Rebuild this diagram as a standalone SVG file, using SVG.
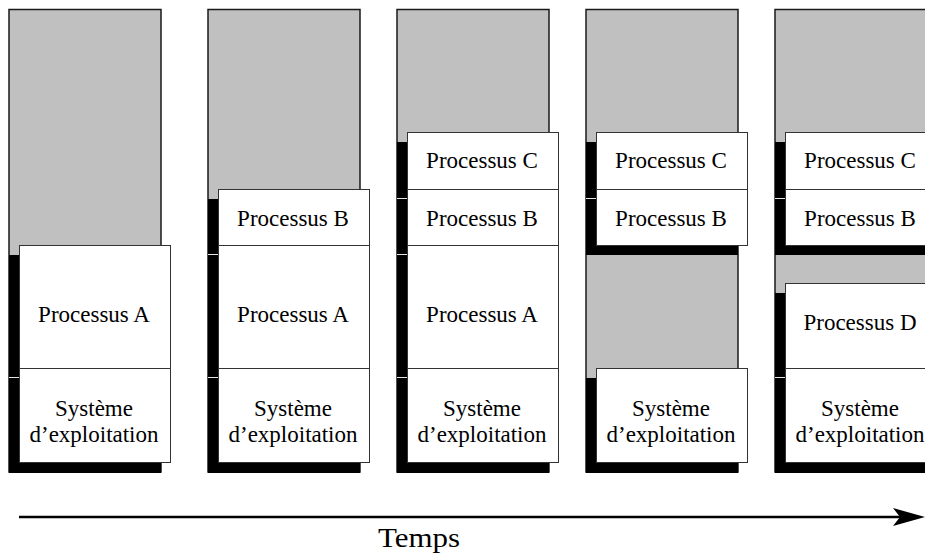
<svg xmlns="http://www.w3.org/2000/svg" width="925" height="556" viewBox="0 0 925 556">
  <style>
    .mem { fill: #c0c0c0; stroke: #1a1a1a; stroke-width: 1.5; }
    .shadow { fill: #000000; }
    .box { fill: #ffffff; stroke: #333333; stroke-width: 1; }
    .gap { stroke: #e6e6e6; stroke-width: 1; }
    .lbl { font-family: "Liberation Serif", "Times New Roman", serif; font-size: 23px; fill: #000000; text-anchor: middle; }
    .axis { font-family: "Liberation Serif", "Times New Roman", serif; font-size: 28px; fill: #000000; text-anchor: middle; }
  </style>

  <!-- Instant 1: système + processus A -->
  <g id="t1" transform="translate(9,0)">
    <rect class="mem" x="0" y="9.5" width="152" height="462.5"/>
    <rect class="shadow" x="0" y="255" width="152" height="123"/>
    <rect class="shadow" x="0" y="378" width="152" height="95"/>
    <line class="gap" x1="0" y1="377.5" x2="10" y2="377.5"/>
    <g id="t1-procA">
      <rect class="box" x="10.5" y="245.5" width="151" height="123"/>
      <text class="lbl" x="85" y="322">Processus A</text>
    </g>
    <g id="t1-os">
      <rect class="box" x="10.5" y="368.5" width="151" height="94"/>
      <text class="lbl" x="85" y="416">Système</text>
      <text class="lbl" x="85" y="442">d’exploitation</text>
    </g>
  </g>

  <!-- Instant 2: + processus B -->
  <g id="t2" transform="translate(208,0)">
    <rect class="mem" x="0" y="9.5" width="152" height="462.5"/>
    <rect class="shadow" x="0" y="199" width="152" height="56"/>
    <rect class="shadow" x="0" y="255" width="152" height="123"/>
    <rect class="shadow" x="0" y="378" width="152" height="95"/>
    <line class="gap" x1="0" y1="254.5" x2="10" y2="254.5"/>
    <line class="gap" x1="0" y1="377.5" x2="10" y2="377.5"/>
    <g id="t2-procB">
      <rect class="box" x="10.5" y="189.5" width="151" height="56"/>
      <text class="lbl" x="85" y="226">Processus B</text>
    </g>
    <g id="t2-procA">
      <rect class="box" x="10.5" y="245.5" width="151" height="123"/>
      <text class="lbl" x="85" y="322">Processus A</text>
    </g>
    <g id="t2-os">
      <rect class="box" x="10.5" y="368.5" width="151" height="94"/>
      <text class="lbl" x="85" y="416">Système</text>
      <text class="lbl" x="85" y="442">d’exploitation</text>
    </g>
  </g>

  <!-- Instant 3: + processus C -->
  <g id="t3" transform="translate(397,0)">
    <rect class="mem" x="0" y="9.5" width="152" height="462.5"/>
    <rect class="shadow" x="0" y="142" width="152" height="57"/>
    <rect class="shadow" x="0" y="199" width="152" height="56"/>
    <rect class="shadow" x="0" y="255" width="152" height="123"/>
    <rect class="shadow" x="0" y="378" width="152" height="95"/>
    <line class="gap" x1="0" y1="198.5" x2="10" y2="198.5"/>
    <line class="gap" x1="0" y1="254.5" x2="10" y2="254.5"/>
    <line class="gap" x1="0" y1="377.5" x2="10" y2="377.5"/>
    <g id="t3-procC">
      <rect class="box" x="10.5" y="132.5" width="151" height="57"/>
      <text class="lbl" x="85" y="168">Processus C</text>
    </g>
    <g id="t3-procB">
      <rect class="box" x="10.5" y="189.5" width="151" height="56"/>
      <text class="lbl" x="85" y="226">Processus B</text>
    </g>
    <g id="t3-procA">
      <rect class="box" x="10.5" y="245.5" width="151" height="123"/>
      <text class="lbl" x="85" y="322">Processus A</text>
    </g>
    <g id="t3-os">
      <rect class="box" x="10.5" y="368.5" width="151" height="94"/>
      <text class="lbl" x="85" y="416">Système</text>
      <text class="lbl" x="85" y="442">d’exploitation</text>
    </g>
  </g>

  <!-- Instant 4: processus A terminé, trou libre -->
  <g id="t4" transform="translate(586,0)">
    <rect class="mem" x="0" y="9.5" width="152" height="462.5"/>
    <rect class="shadow" x="0" y="142" width="152" height="57"/>
    <rect class="shadow" x="0" y="199" width="152" height="56"/>
    <rect class="shadow" x="0" y="378" width="152" height="95"/>
    <line class="gap" x1="0" y1="198.5" x2="10" y2="198.5"/>
    <g id="t4-procC">
      <rect class="box" x="10.5" y="132.5" width="151" height="57"/>
      <text class="lbl" x="85" y="168">Processus C</text>
    </g>
    <g id="t4-procB">
      <rect class="box" x="10.5" y="189.5" width="151" height="56"/>
      <text class="lbl" x="85" y="226">Processus B</text>
    </g>
    <g id="t4-os">
      <rect class="box" x="10.5" y="368.5" width="151" height="94"/>
      <text class="lbl" x="85" y="416">Système</text>
      <text class="lbl" x="85" y="442">d’exploitation</text>
    </g>
  </g>

  <!-- Instant 5: processus D dans le trou -->
  <g id="t5" transform="translate(775,0)">
    <rect class="mem" x="0" y="9.5" width="152" height="462.5"/>
    <rect class="shadow" x="0" y="142" width="152" height="57"/>
    <rect class="shadow" x="0" y="199" width="152" height="56"/>
    <rect class="shadow" x="0" y="293" width="152" height="85"/>
    <rect class="shadow" x="0" y="378" width="152" height="95"/>
    <line class="gap" x1="0" y1="198.5" x2="10" y2="198.5"/>
    <line class="gap" x1="0" y1="377.5" x2="10" y2="377.5"/>
    <g id="t5-procC">
      <rect class="box" x="10.5" y="132.5" width="151" height="57"/>
      <text class="lbl" x="85" y="168">Processus C</text>
    </g>
    <g id="t5-procB">
      <rect class="box" x="10.5" y="189.5" width="151" height="56"/>
      <text class="lbl" x="85" y="226">Processus B</text>
    </g>
    <g id="t5-procD">
      <rect class="box" x="10.5" y="283.5" width="151" height="85"/>
      <text class="lbl" x="85" y="330">Processus D</text>
    </g>
    <g id="t5-os">
      <rect class="box" x="10.5" y="368.5" width="151" height="94"/>
      <text class="lbl" x="85" y="416">Système</text>
      <text class="lbl" x="85" y="442">d’exploitation</text>
    </g>
  </g>

  <!-- Axe du temps -->
  <g id="connectors">
    <line x1="19" y1="517" x2="902" y2="517" stroke="#000000" stroke-width="2.5"/>
    <polygon points="925,517 893,508 900,517 893,526" fill="#000000"/>
  </g>
  <text class="axis" x="419" y="547" textLength="82" lengthAdjust="spacingAndGlyphs">Temps</text>
</svg>
